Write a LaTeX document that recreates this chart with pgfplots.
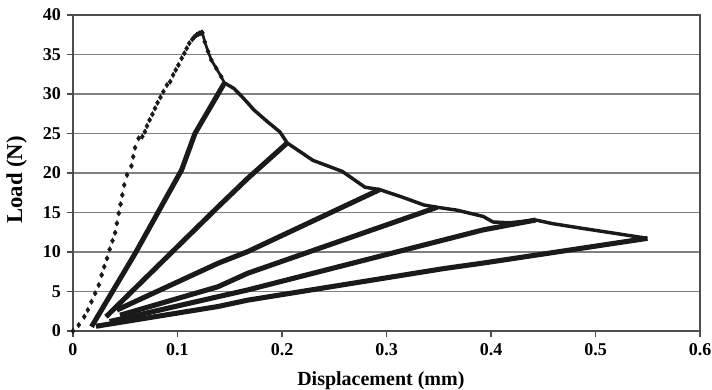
\documentclass[border=0pt]{standalone}
\usepackage{pgfplots}
\pgfplotsset{compat=1.18}
\usepackage{fontspec}
\setmainfont{Liberation Serif}
\definecolor{ink}{HTML}{1A1A1A}
\definecolor{gridc}{HTML}{808080}
\begin{document}
\begin{tikzpicture}
\useasboundingbox (-54.75pt,-43.5pt) rectangle (479.25pt,248.25pt);
\begin{axis}[
  at={(0,0)}, anchor=south west,
  scale only axis,
  width=470.25pt, height=237pt,
  xmin=0, xmax=0.6, ymin=0, ymax=40,
  xtick={0,0.1,...,0.6},
  ytick={0,5,...,40},
  xticklabels={0,0.1,0.2,0.3,0.4,0.5,0.6},
  yticklabels={0,5,10,15,20,25,30,35,40},
  tick align=outside,
  major tick length=4.5pt,
  xtick pos=bottom, ytick pos=left,
  tick style={gridc!60!black, line width=0.8pt},
  ymajorgrids=true,
  grid style={gridc, line width=0.9pt},
  axis line style={gridc!60!black, line width=0.9pt},
  /pgf/number format/assume math mode=true,
  tick label style={font=\fontsize{13.5}{15}\selectfont\bfseries, text=black},
  xticklabel style={yshift=-1pt},
  yticklabel style={xshift=-1pt},
  xlabel={Displacement (mm)},
  ylabel={Load (N)},
  xlabel style={font=\fontsize{15}{17}\selectfont\bfseries, at={(axis description cs:0.491,-0.171)}, anchor=base},
  ylabel style={font=\fontsize{17}{19}\selectfont\bfseries, at={(axis description cs:-0.09,0.478)}, anchor=center},
  clip=false,
]
% first loading (sparse diamond markers)
\addplot[only marks, mark=diamond*, mark size=2pt, color=ink] coordinates {
(0,0) (0.0055,0.76) (0.0108,1.81) (0.0142,2.66) (0.0177,3.71) (0.0212,4.77)
(0.0247,5.82) (0.0274,7.09) (0.0299,8.14) (0.0326,9.20) (0.0351,10.34)
(0.0378,11.43) (0.0403,12.44) (0.0420,13.63) (0.0438,14.90) (0.0455,16.04)
(0.0472,17.22) (0.0490,18.48) (0.0517,19.75) (0.0559,20.89) (0.0576,22.06)
(0.0594,23.20) (0.0628,24.39) (0.0663,24.60) (0.0688,25.23) (0.0708,25.95)
(0.0733,26.71) (0.0760,27.43) (0.0785,28.19) (0.0809,28.90) (0.0837,29.58)
(0.0865,30.30) (0.0899,31.14) (0.0930,31.56) (0.0958,32.41) (0.0983,33.04)
(0.1009,33.67) (0.1040,34.52) (0.1066,35.15) (0.1088,35.78) (0.1113,36.42)
(0.1142,36.92) (0.1160,37.20) (0.1182,37.47) (0.1200,37.60) (0.1214,37.68)
(0.1228,37.75) (0.1238,37.76)
(0.1261,36.6) (0.1292,35.4) (0.1324,34.3) (0.1371,33.25) (0.1418,32.2)
};
% softening envelope
\addplot[color=ink, line width=2pt, line join=round] coordinates {
(0.1238,37.76) (0.1261,36.6) (0.1292,35.4) (0.1324,34.3) (0.1371,33.25)
(0.1418,32.2) (0.145,31.4)};
\addplot[color=ink, line width=2.6pt, line join=round] coordinates {
(0.145,31.4) (0.154,30.7) (0.160,29.9) (0.167,28.9) (0.173,28.0)
(0.186,26.5) (0.198,25.2) (0.205,23.8) (0.2296,21.6) (0.2577,20.2) (0.2794,18.2)
(0.2935,17.9) (0.3139,17.0) (0.3358,15.95) (0.3484,15.66) (0.3673,15.3)
(0.3925,14.5) (0.4019,13.8) (0.418,13.7) (0.4428,14.05) (0.4585,13.6)
(0.487,13.0) (0.5183,12.37) (0.5497,11.73)
};
% unloading / reloading cycles
\addplot[color=ink, line width=3.8pt, line join=round] coordinates {
(0.0177,0.54) (0.0594,9.8) (0.104,20.4) (0.1167,25.0) (0.145,31.4)};
\addplot[color=ink, line width=3.8pt, line join=round] coordinates {
(0.0316,1.8) (0.1387,15.7) (0.167,19.3) (0.205,23.8)};
\addplot[color=ink, line width=3.8pt, line join=round] coordinates {
(0.042,2.66) (0.1387,8.57) (0.167,10.04) (0.2935,17.9)};
\addplot[color=ink, line width=3.8pt, line join=round] coordinates {
(0.045,2.0) (0.1387,5.6) (0.167,7.3) (0.3484,15.66)};
\addplot[color=ink, line width=3.8pt, line join=round] coordinates {
(0.035,1.2) (0.1387,4.34) (0.167,5.19) (0.3925,12.8) (0.4428,14.05)};
\addplot[color=ink, line width=3.8pt, line join=round] coordinates {
(0.022,0.6) (0.1387,3.1) (0.167,3.9) (0.3547,7.9) (0.3925,8.6) (0.5497,11.73)};
\end{axis}
\end{tikzpicture}
\end{document}
